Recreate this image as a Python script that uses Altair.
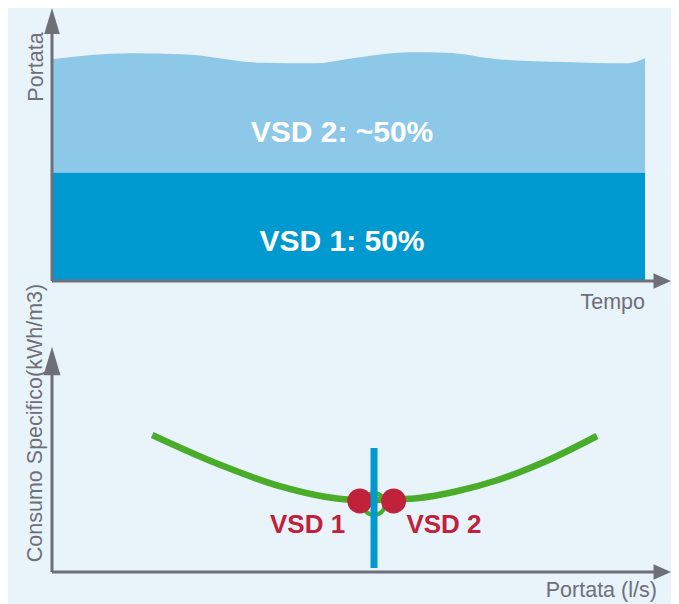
import altair as alt
import pandas as pd

# ---------------- data ----------------
# top panel: flow (Portata) over time (Tempo), two stacked drives
time_pts = [0, 13.2, 22.6, 35.1, 44.5, 49.6, 60.5, 66.4, 75.2, 86.2, 97.1, 100]
total_flow = [102.4, 105.1, 104.6, 100.8, 100.5, 102.4, 105.6, 105.4, 102.4, 101.1, 100.5, 102.8]
vsd1_share = 50
top_labels = ["VSD 2: ~50%", "VSD 1: 50%"]

# bottom panel: specific consumption vs flow
curve_q = [16.9, 27.7, 38.7, 46.0, 51.8, 60.5, 67.9, 75.2, 82.5, 91.9]
curve_c = [68.5, 54.35, 42.65, 37.65, 36.0, 36.65, 40.15, 46.0, 54.35, 68.0]
op_q = 54.3                      # operating flow (vertical blue line)
op_c = [62, 2]
dots_q = [51.9, 57.6]
dots_c = [35.5, 35.5]
dot_labels = ["VSD 1", "VSD 2"]
dot_label_q = [43.1, 66.1]
dot_label_c = [19.5, 19.5]

# ---------------- styles ----------------
BG = "#e8f3fa"
AXIS = "#6f6f78"
DARK = "#009ad0"
LIGHT = "#8ec8e8"
RED = "#c0213b"
GREEN = "#4aad2a"
FONT = "Liberation Sans"

XDOM = [-7.42, 104.38]
TOP_YDOM = [-16.16, 126.04]
BOT_YDOM = [-16, 128]
W = 663
X_TIP = 102.9

UP_HEAD = "M0,-1L0.6,1L-0.6,1Z"
RIGHT_HEAD = "M1,0L-1,-0.9L-1,0.9Z"


def X(field):
    return alt.X(field, type="quantitative", scale=alt.Scale(domain=XDOM, nice=False, zero=False), axis=None)


def Y(field, dom):
    return alt.Y(field, type="quantitative", scale=alt.Scale(domain=dom, nice=False, zero=False), axis=None)


def axes(ydom, y_tip_center, y_head_size, x_tip_center, title_y, title_x):
    v = alt.Chart(pd.DataFrame({"x": [0], "y": [0], "y2": [y_tip_center]})).mark_rule(
        color=AXIS, strokeWidth=3).encode(x=X("x"), y=Y("y", ydom), y2="y2")
    h = alt.Chart(pd.DataFrame({"x": [0], "x2": [x_tip_center], "y": [0]})).mark_rule(
        color=AXIS, strokeWidth=3).encode(x=X("x"), x2="x2", y=Y("y", ydom))
    vh = alt.Chart(pd.DataFrame({"x": [0], "y": [y_tip_center]})).mark_point(
        shape=UP_HEAD, filled=True, size=y_head_size, color=AXIS, opacity=1, strokeWidth=0
    ).encode(x=X("x"), y=Y("y", ydom))
    hh = alt.Chart(pd.DataFrame({"x": [x_tip_center], "y": [0]})).mark_point(
        shape=RIGHT_HEAD, filled=True, size=303, color=AXIS, opacity=1, strokeWidth=0
    ).encode(x=X("x"), y=Y("y", ydom))
    yt = alt.Chart(pd.DataFrame(title_y)).mark_text(
        angle=270, align="center", baseline="alphabetic", font=FONT, fontSize=21.5, color=AXIS
    ).encode(x=X("x"), y=Y("y", ydom), text="t:N")
    xt = alt.Chart(pd.DataFrame(title_x)).mark_text(
        align="right", baseline="alphabetic", font=FONT, fontSize=21.5, color=AXIS
    ).encode(x=X("x"), y=Y("y", ydom), text="t:N")
    return [v, h, vh, hh, yt, xt]


# ---------------- top panel ----------------
t0, t1 = time_pts[0], time_pts[-1]
base_df = pd.DataFrame({"t": [t0, t1], "lo": [0, 0], "hi": [vsd1_share, vsd1_share]})
wave_df = pd.DataFrame({"t": time_pts, "lo": [vsd1_share] * len(time_pts), "hi": total_flow})

area2 = alt.Chart(wave_df).mark_area(color=LIGHT, interpolate="monotone", opacity=1).encode(
    x=X("t"), y=Y("hi", TOP_YDOM), y2="lo")
area1 = alt.Chart(base_df).mark_area(color=DARK, opacity=1).encode(
    x=X("t"), y=Y("hi", TOP_YDOM), y2="lo")
lab_df = pd.DataFrame({"x": [48.9, 48.9], "y": [64.2, 13.9], "t": top_labels})
labs = alt.Chart(lab_df).mark_text(
    align="center", baseline="alphabetic", font=FONT, fontSize=30, fontWeight="bold", color="white"
).encode(x=X("x"), y=Y("y", TOP_YDOM), text="t:N")

top = alt.layer(
    area2, area1, labs,
    *axes(TOP_YDOM, 120, 676, X_TIP,
          {"x": [-1.57], "y": [98.8], "t": ["Portata"]},
          {"x": [100], "y": [-12.9], "t": ["Tempo"]}),
).properties(width=W, height=308)

# ---------------- bottom panel ----------------
curve = alt.Chart(pd.DataFrame({"q": curve_q, "c": curve_c})).mark_line(
    color=GREEN, strokeWidth=6.5, interpolate="monotone").encode(x=X("q"), y=Y("c", BOT_YDOM))
loop = alt.Chart(pd.DataFrame({"q": [op_q], "c": [34]})).mark_point(
    shape="circle", filled=False, size=484, color=GREEN, strokeWidth=4, opacity=1
).encode(x=X("q"), y=Y("c", BOT_YDOM))
dots = alt.Chart(pd.DataFrame({"q": dots_q, "c": dots_c})).mark_point(
    shape="circle", filled=True, size=625, color=RED, opacity=1, strokeWidth=0
).encode(x=X("q"), y=Y("c", BOT_YDOM))
vline = alt.Chart(pd.DataFrame({"q": [op_q], "c": [op_c[0]], "c2": [op_c[1]]})).mark_rule(
    color=DARK, strokeWidth=7).encode(x=X("q"), y=Y("c", BOT_YDOM), y2="c2")
dlabs = alt.Chart(pd.DataFrame({"q": dot_label_q, "c": dot_label_c, "t": dot_labels})).mark_text(
    align="center", baseline="alphabetic", font=FONT, fontSize=26, fontWeight="bold", color=RED
).encode(x=X("q"), y=Y("c", BOT_YDOM), text="t:N")

bottom = alt.layer(
    curve, loop, dots, vline, dlabs,
    *axes(BOT_YDOM, 105.5, 807, X_TIP,
          {"x": [-1.69], "y": [74.5], "t": ["Consumo Specifico(kWh/m3)"]},
          {"x": [102.0], "y": [-12.6], "t": ["Portata (l/s)"]}),
).properties(width=W, height=288)

chart = alt.vconcat(top, bottom, spacing=0, bounds="flush").properties(
    padding=0, background=BG
).configure_view(stroke=None)

chart.save("out.html", embed_options={"renderer": "svg", "actions": False})
